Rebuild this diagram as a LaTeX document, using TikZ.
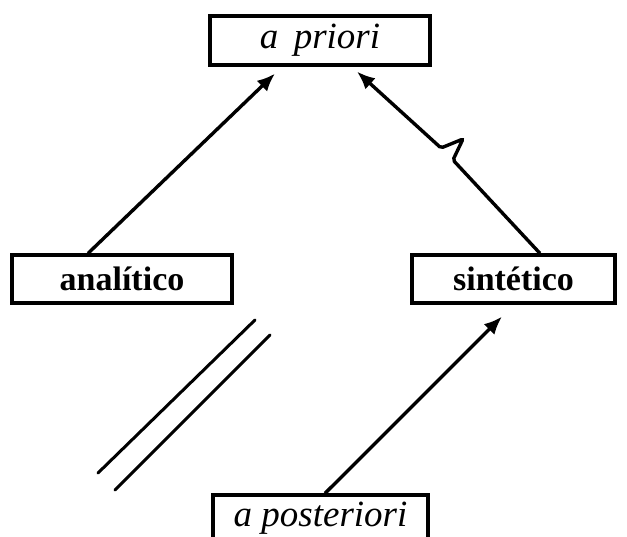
\documentclass[tikz,border=0pt]{standalone}
\usepackage{fontspec}
\setmainfont{Liberation Serif}
\usetikzlibrary{arrows.meta}
\begin{document}
\begin{tikzpicture}[x=1pt,y=1pt,
  box/.style={draw,line width=3.2pt,inner sep=0pt,font=\fontsize{34}{38}\selectfont},
  arr/.style={line width=3.4pt,-{Latex[length=18pt,width=15pt]}}]
\useasboundingbox (0,0) rectangle (627,537);
\clip (0,0) rectangle (627,537);
\node[box,minimum width=220,minimum height=49] (pri) at (320,496.5) {\fontsize{37}{40}\selectfont\itshape a\, priori};
\node[box,minimum width=220,minimum height=48] (ana) at (122,258) {\bfseries analítico};
\node[box,minimum width=203,minimum height=48] (sin) at (513.5,258) {\bfseries sintético};
\node[box,minimum width=215,minimum height=46] (pos) at (320.5,19) {\fontsize{37}{40}\selectfont\itshape a posteriori};
\draw[arr] ([xshift=-34pt]ana.north) -- ([xshift=-45pt,yshift=-7pt]pri.south);
\draw[arr,rounded corners=2pt] ([xshift=26.5pt]sin.north) -- (453,377) -- (463,398) -- (441,389)
  -- ([xshift=37pt,yshift=-5pt]pri.south);
\draw[arr] ([xshift=4.5pt]pos.north) -- ([xshift=-11.5pt,yshift=-12pt]sin.south);
\draw[line width=3pt,line cap=round] (98,64) -- (255,217);
\draw[line width=3pt,line cap=round] (115,47) -- (270,202);
\end{tikzpicture}
\end{document}
